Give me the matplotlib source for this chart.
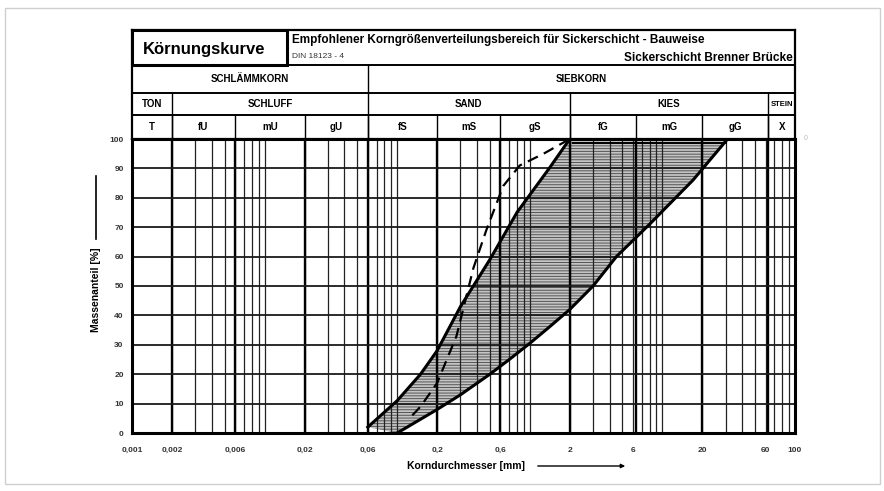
import numpy as np
import matplotlib
matplotlib.use('Agg')
import matplotlib.pyplot as plt
from matplotlib.patches import Rectangle

plt.rcParams['font.family'] = ['Liberation Sans', 'DejaVu Sans']
plt.rcParams['hatch.linewidth'] = 0.7

# grain size limits (mm) and passing percentages
fine_d = [0.06, 0.1, 0.15, 0.2, 0.3, 0.5, 0.8, 1.0, 1.4, 2.0]
fine_p = [2, 11, 20, 28, 43, 59, 75, 81, 90, 100]
coarse_d = [0.1, 0.2, 0.3, 0.5, 0.7, 1.0, 1.4, 2.0, 3.0, 4.5, 8.0, 17.0, 31.0]
coarse_p = [0, 8, 13, 20, 25, 30.5, 36, 42, 50, 60, 71, 86, 100]
dash_d = [0.13, 0.15, 0.2, 0.28, 0.375, 0.47, 0.63, 0.84, 1.27, 2.0]
dash_p = [6, 9, 17, 33, 56, 69, 84, 91, 95, 100]

tick_vals = [0.001, 0.002, 0.006, 0.02, 0.06, 0.2, 0.6, 2, 6, 20, 60, 100]
tick_text = ['0,001', '0,002', '0,006', '0,02', '0,06', '0,2', '0,6', '2', '6', '20', '60', '100']
bounds = [0.002, 0.006, 0.02, 0.06, 0.2, 0.6, 2, 6.3, 20, 63]

row1 = [('SCHLÄMMKORN', 0.001, 0.06), ('SIEBKORN', 0.06, 100)]
row2 = [('TON', 0.001, 0.002), ('SCHLUFF', 0.002, 0.06), ('SAND', 0.06, 2),
        ('KIES', 2, 63), ('STEIN', 63, 100)]
row3 = ['T', 'fU', 'mU', 'gU', 'fS', 'mS', 'gS', 'fG', 'mG', 'gG', 'X']

W, H = 884, 491
fig = plt.figure(figsize=(W / 100, H / 100), dpi=100)

# light frame around the picture
fig.patches.append(Rectangle((5 / W, 7 / H), 875 / W, 476 / H, transform=fig.transFigure,
                             fill=False, edgecolor='#cfcfcf', lw=1))

x0, x1, ytop, ybot = 132, 795, 139, 433
ax = fig.add_axes([x0 / W, (H - ybot) / H, (x1 - x0) / W, (ybot - ytop) / H])
ax.set_xscale('log')
ax.set_xlim(0.001, 100)
ax.set_ylim(0, 100)

# grid
for dec in [0.001, 0.01, 0.1, 1, 10]:
    for m in range(1, 10):
        v = dec * m
        if 0.001 < v < 100:
            ax.axvline(v, color='#222222', lw=0.9, zorder=1)
for b in bounds:
    ax.axvline(b, color='black', lw=1.7, zorder=1)
for p in range(10, 100, 10):
    ax.axhline(p, color='#1a1a1a', lw=1.3, zorder=1)

# recommended range (hatched, grid shows through)
poly_x = fine_d + [31.0] + coarse_d[::-1]
poly_y = fine_p + [100] + coarse_p[::-1]
ax.fill(poly_x, poly_y, facecolor='#c4c4c4', edgecolor='#555555', hatch='------', lw=0, zorder=0.5)
ax.plot([2.1, 30], [98.8, 98.8], color='black', lw=1.4, zorder=3)

ax.plot(fine_d, fine_p, color='black', lw=2.2, zorder=4)
ax.plot(coarse_d, coarse_p, color='black', lw=2.2, zorder=4)
ax.plot(dash_d, dash_p, color='black', lw=1.6, ls=(0, (5, 3)), zorder=4)

for s in ax.spines.values():
    s.set_linewidth(2.2)

ax.set_yticks(range(0, 101, 10))
ax.set_yticklabels([str(v) for v in range(0, 101, 10)], fontsize=6, fontweight='bold', color='#333333')
ax.set_xticks(tick_vals)
ax.set_xticklabels(tick_text, fontsize=6, fontweight='bold', color='#333333')
ax.xaxis.set_minor_locator(matplotlib.ticker.NullLocator())
ax.tick_params(axis='both', length=0)
ax.tick_params(axis='x', pad=10)
ax.tick_params(axis='y', pad=6)

# axis labels with arrows
fig.text(407 / W, (H - 466) / H, 'Korndurchmesser [mm]', fontsize=7.5, fontweight='bold',
         ha='left', va='center')
fig.add_artist(matplotlib.patches.FancyArrowPatch((535 / W, (H - 466) / H), (628 / W, (H - 466) / H),
               transform=fig.transFigure, arrowstyle='-|>', mutation_scale=6, lw=1, color='black'))
fig.text(96 / W, (H - 290) / H, 'Massenanteil [%]', fontsize=7.5, fontweight='bold',
         rotation=90, ha='center', va='center')
fig.add_artist(matplotlib.lines.Line2D([96 / W, 96 / W], [(H - 176) / H, (H - 239) / H],
               transform=fig.transFigure, lw=1.2, color='black'))
fig.text(806 / W, (H - 139) / H, '0', fontsize=5, color='#bbbbbb', ha='center', va='center')

# header table
hx = fig.add_axes([x0 / W, (H - ytop) / H, (x1 - x0) / W, (ytop - 30) / H])
hx.set_xlim(-3, 2)
hx.set_ylim(139, 30)
hx.set_xticks([])
hx.set_yticks([])
for s in hx.spines.values():
    s.set_linewidth(1.6)
L = np.log10
for yy in [65, 93, 115]:
    hx.plot([-3, 2], [yy, yy], color='black', lw=1.4)
hx.plot([L(0.06)] * 2, [65, 93], color='black', lw=1)
for _, a, b in row2[:-1]:
    hx.plot([L(b)] * 2, [93, 139], color='black', lw=1)
for b in bounds:
    hx.plot([L(b)] * 2, [115, 139], color='black', lw=1)

kx = -3 + (287 - x0) / 132.6
hx.add_patch(Rectangle((-3, 30), kx + 3, 35, fill=False, lw=2.2, edgecolor='black'))
hx.text((kx - 3) / 2 - 0.04, 49, 'Körnungskurve', fontsize=12, fontweight='bold',
        ha='center', va='center')
hx.text(kx + 0.04, 40, 'Empfohlener Korngrößenverteilungsbereich für Sickerschicht - Bauweise',
        fontsize=8.5, fontweight='bold', ha='left', va='center')
hx.text(kx + 0.04, 57, 'DIN 18123 - 4', fontsize=6, ha='left', va='center', color='#333333')
hx.text(1.98, 58, 'Sickerschicht Brenner Brücke', fontsize=8.5, fontweight='bold',
        ha='right', va='center')

for name, a, b in row1:
    hx.text((L(a) + L(b)) / 2, 79, name, fontsize=7, fontweight='bold', ha='center', va='center')
for name, a, b in row2:
    hx.text((L(a) + L(b)) / 2, 104, name, fontsize=7 if name != 'STEIN' else 5.5,
            fontweight='bold', ha='center', va='center')
edges = [0.001] + bounds + [100]
for i, name in enumerate(row3):
    hx.text((L(edges[i]) + L(edges[i + 1])) / 2, 127, name, fontsize=7, fontweight='bold',
            ha='center', va='center')

fig.savefig('out.png', dpi=100)
